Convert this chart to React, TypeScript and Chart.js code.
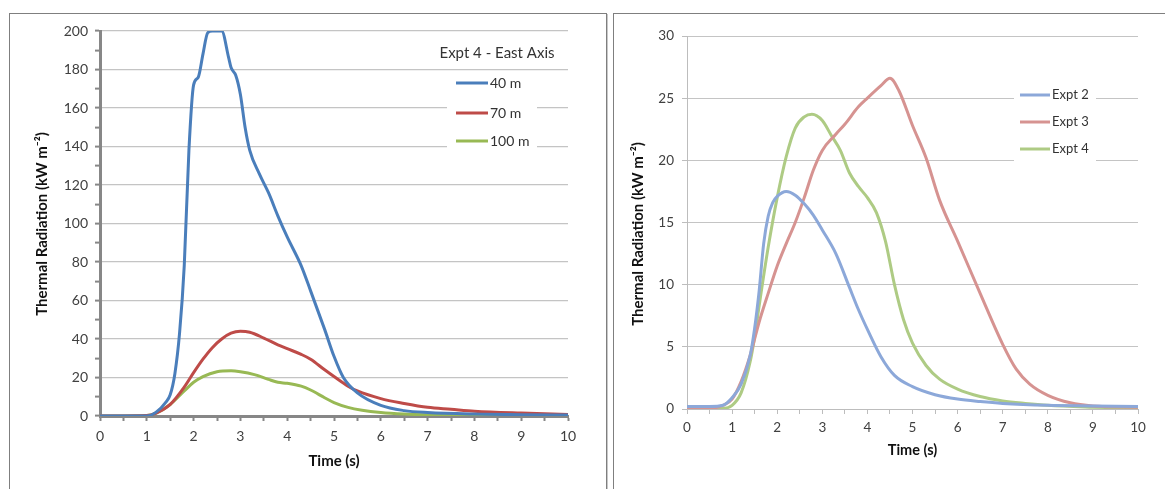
import React, { useEffect, useRef } from "react";
import { Chart, registerables } from "chart.js";

Chart.register(...registerables);

const FONT = "Lato, 'Liberation Sans', 'DejaVu Sans', sans-serif";

// ---------- Left chart: Expt 4 - East Axis ----------
const leftLegendTitle = "Expt 4 - East Axis";
const leftLabels = ["40 m", "70 m", "100 m"];

const time40 = [0, 0.5, 1, 1.2, 1.4, 1.5, 1.6, 1.7, 1.8, 1.9, 2.0, 2.1, 2.2, 2.3, 2.4, 2.5, 2.6, 2.75, 2.8, 2.9, 3.0, 3.1, 3.2, 3.4, 3.6, 3.8, 4.0, 4.3, 4.5, 4.8, 5.0, 5.2, 5.5, 6.0, 6.5, 7, 8, 9, 10];
const rad40 = [0, 0, 0, 2, 7, 11, 22, 43, 78, 138, 172, 176, 188, 199, 200, 200, 200, 186, 181, 177, 167, 150, 138, 126, 116, 104, 93, 78, 65, 45, 31, 20, 12, 5.5, 2.8, 1.8, 1.0, 0.7, 0.5];

const time70 = [0, 0.5, 1, 1.2, 1.5, 1.8, 2.0, 2.2, 2.4, 2.6, 2.8, 3.0, 3.2, 3.5, 3.8, 4.0, 4.3, 4.5, 4.8, 5.0, 5.3, 5.5, 6.0, 6.5, 7.0, 7.5, 8.0, 9.0, 10];
const rad70 = [0, 0, 0.2, 1.5, 6, 15, 22.5, 29.5, 35.5, 40, 43, 44, 43.5, 40.5, 37, 35, 32, 29.5, 24, 20.5, 15.5, 13, 9, 6.5, 4.5, 3.5, 2.5, 1.5, 0.8];

const time100 = [0, 0.5, 1, 1.2, 1.5, 1.8, 2.0, 2.2, 2.5, 2.8, 3.0, 3.3, 3.6, 3.8, 4.0, 4.3, 4.5, 4.8, 5.0, 5.3, 5.6, 6.0, 6.5, 7, 8, 9, 10];
const rad100 = [0, 0, 0.2, 1.5, 6, 13, 17.5, 20.5, 23, 23.5, 23, 21.5, 19, 17.5, 17, 15.5, 13.5, 9.5, 7, 4.5, 3, 1.8, 1.0, 0.6, 0.3, 0.2, 0.2];

// ---------- Right chart: Expt 2 / 3 / 4 ----------
const rightLabels = ["Expt 2", "Expt 3", "Expt 4"];

const timeE2 = [0, 0.5, 0.8, 1.0, 1.2, 1.4, 1.5, 1.6, 1.7, 1.8, 1.9, 2.0, 2.2, 2.4, 2.6, 2.8, 3.0, 3.3, 3.6, 3.8, 4.0, 4.3, 4.6, 5.0, 5.5, 6.0, 6.5, 7.0, 8.0, 9.0, 10];
const radE2 = [0.2, 0.2, 0.3, 0.9, 2.0, 4.3, 6.5, 9.5, 13.3, 15.5, 16.6, 17.1, 17.5, 17.2, 16.5, 15.6, 14.4, 12.5, 9.8, 8, 6.4, 4.2, 2.7, 1.8, 1.15, 0.8, 0.6, 0.45, 0.3, 0.25, 0.2];

const timeE3 = [0, 0.6, 0.8, 1.0, 1.2, 1.4, 1.6, 1.8, 2.0, 2.2, 2.4, 2.6, 2.8, 3.0, 3.3, 3.5, 3.8, 4.0, 4.3, 4.5, 4.7, 5.0, 5.3, 5.6, 6.0, 6.5, 7.0, 7.3, 7.6, 8.0, 8.5, 9.0, 10];
const radE3 = [0.05, 0.1, 0.3, 0.8, 2.2, 4.3, 7, 9.3, 11.5, 13.3, 15, 17, 19.2, 20.8, 22.1, 22.9, 24.3, 25, 26, 26.6, 25.6, 22.8, 20.2, 16.8, 13.5, 9.3, 5.2, 3.2, 2.0, 1.1, 0.5, 0.25, 0.15];

const timeE4 = [0, 0.8, 1.0, 1.2, 1.4, 1.5, 1.6, 1.8, 2.0, 2.2, 2.4, 2.6, 2.77, 3.0, 3.2, 3.4, 3.6, 3.8, 4.0, 4.2, 4.4, 4.6, 4.8, 5.0, 5.3, 5.6, 6.0, 6.5, 7.0, 7.5, 8.0, 9.0, 10];
const radE4 = [0, 0.05, 0.3, 1.3, 3.8, 5.8, 8.3, 13.0, 17, 20.3, 22.6, 23.5, 23.7, 23.2, 22, 20.8, 19, 17.9, 17, 15.8, 13.5, 10, 7.2, 5.3, 3.5, 2.4, 1.6, 1.0, 0.65, 0.45, 0.3, 0.15, 0.05];

const leftColors = ["#4A7EBB", "#BE4B48", "#98B954"];
const rightColors = ["#8CA8D9", "#D69391", "#AECB84"];

const yTitle = "Thermal Radiation (kW m\u207B\u00B2)";
const xTitle = "Time (s)";

const pts = (xs: number[], ys: number[]) => xs.map((x, i) => ({ x, y: ys[i] }));

type LegendCfg = {
  title?: string;
  titleX?: number;
  titleY?: number;
  titleSize?: number;
  box: { x: number; y: number; w: number; h: number };
  lineX0: number;
  lineX1: number;
  textX: number;
  rows: number[];
  labels: string[];
  colors: string[];
  fontSize: number;
  yTitleX: number;
  yTitleY: number;
  yTitleSize: number;
};

function legendPlugin(cfg: LegendCfg) {
  return {
    id: "boxLegend",
    afterDraw(chart: any) {
      const ctx = chart.ctx as CanvasRenderingContext2D;
      ctx.save();
      // y-axis title
      ctx.save();
      ctx.translate(cfg.yTitleX, cfg.yTitleY);
      ctx.rotate(-Math.PI / 2);
      ctx.fillStyle = "#111111";
      ctx.font = `bold ${cfg.yTitleSize}px ${FONT}`;
      ctx.textAlign = "center";
      ctx.textBaseline = "middle";
      ctx.fillText(yTitle, 0, 0);
      ctx.restore();
      // legend
      ctx.fillStyle = "#ffffff";
      ctx.fillRect(cfg.box.x, cfg.box.y, cfg.box.w, cfg.box.h);
      if (cfg.title) {
        ctx.fillStyle = "#333333";
        ctx.font = `${cfg.titleSize}px ${FONT}`;
        ctx.textAlign = "center";
        ctx.textBaseline = "middle";
        ctx.fillText(cfg.title, cfg.titleX!, cfg.titleY!);
      }
      cfg.labels.forEach((lab, i) => {
        const y = cfg.rows[i];
        ctx.strokeStyle = cfg.colors[i];
        ctx.lineWidth = 3;
        ctx.lineCap = "butt";
        ctx.beginPath();
        ctx.moveTo(cfg.lineX0, y);
        ctx.lineTo(cfg.lineX1, y);
        ctx.stroke();
        ctx.fillStyle = "#333333";
        ctx.font = `${cfg.fontSize}px ${FONT}`;
        ctx.textAlign = "left";
        ctx.textBaseline = "middle";
        ctx.fillText(lab, cfg.textX, y);
      });
      ctx.restore();
    },
  };
}

function ds(label: string, data: any[], color: string) {
  return {
    label,
    data,
    borderColor: color,
    backgroundColor: color,
    borderWidth: 3,
    pointRadius: 0,
    cubicInterpolationMode: "monotone" as const,
    fill: false,
  };
}

function LeftChart() {
  const ref = useRef<HTMLCanvasElement>(null);
  useEffect(() => {
    const axisGrey = "#878787";
    const chart = new Chart(ref.current!, {
      type: "line",
      data: {
        datasets: [
          ds(leftLabels[0], pts(time40, rad40), leftColors[0]),
          ds(leftLabels[1], pts(time70, rad70), leftColors[1]),
          ds(leftLabels[2], pts(time100, rad100), leftColors[2]),
        ],
      },
      options: {
        responsive: false,
        animation: false,
        events: [],
        layout: { padding: { top: 17, right: 38, left: 0, bottom: 0 } },
        plugins: { legend: { display: false }, tooltip: { enabled: false } },
        scales: {
          x: {
            type: "linear",
            min: 0,
            max: 10,
            afterFit: (s: any) => { s.height = 73; },
            border: { display: true, color: axisGrey, width: 3 },
            grid: { drawOnChartArea: false, drawTicks: true, tickLength: 5, tickColor: axisGrey, tickWidth: 2 },
            ticks: {
              stepSize: 0.5,
              autoSkip: false,
              maxRotation: 0,
              padding: 7,
              color: "#404040",
              font: { family: FONT, size: 14 },
              callback: (v: any) => (Number.isInteger(v) ? String(v) : ""),
            },
            title: { display: true, text: xTitle, color: "#111", font: { family: FONT, size: 15, weight: "bold" }, padding: { top: 0, bottom: 19 } },
          },
          y: {
            type: "linear",
            min: 0,
            max: 200,
            afterFit: (s: any) => { s.width = 90; },
            border: { display: true, color: axisGrey, width: 3 },
            grid: {
              color: (c: any) => (c.tick && c.tick.value % 20 === 0 ? "#C4C4C4" : "rgba(0,0,0,0)"),
              lineWidth: 1.2,
              tickLength: 5,
              tickColor: axisGrey,
              tickWidth: 2,
            },
            ticks: {
              stepSize: 10,
              autoSkip: false,
              padding: 7,
              color: "#404040",
              font: { family: FONT, size: 14 },
              callback: (v: any) => (v % 20 === 0 ? String(v) : ""),
            },
            title: { display: false },
          },
        },
      },
      plugins: [
        legendPlugin({
          title: leftLegendTitle,
          titleX: 487,
          titleY: 39,
          titleSize: 15,
          box: { x: 437, y: 58, w: 90, h: 80 },
          lineX0: 446,
          lineX1: 478,
          textX: 480,
          rows: [69, 99, 127],
          labels: leftLabels,
          colors: leftColors,
          fontSize: 14,
          yTitleX: 32,
          yTitleY: 210,
          yTitleSize: 15,
        }),
      ],
    } as any);
    return () => chart.destroy();
  }, []);
  return <canvas ref={ref} width={596} height={475} style={{ position: "absolute", left: 10, top: 14, width: 596, height: 475 }} />;
}

function RightChart() {
  const ref = useRef<HTMLCanvasElement>(null);
  useEffect(() => {
    const axisGrey = "#BDBDBD";
    const chart = new Chart(ref.current!, {
      type: "line",
      data: {
        datasets: [
          ds(rightLabels[0], pts(timeE2, radE2), rightColors[0]),
          ds(rightLabels[1], pts(timeE3, radE3), rightColors[1]),
          ds(rightLabels[2], pts(timeE4, radE4), rightColors[2]),
        ],
      },
      options: {
        responsive: false,
        animation: false,
        events: [],
        layout: { padding: { top: 22, right: 27, left: 0, bottom: 0 } },
        plugins: { legend: { display: false }, tooltip: { enabled: false } },
        scales: {
          x: {
            type: "linear",
            min: 0,
            max: 10,
            afterFit: (s: any) => { s.height = 80; },
            border: { display: true, color: axisGrey, width: 1 },
            grid: { drawOnChartArea: false, drawTicks: true, tickLength: 5, tickColor: axisGrey, tickWidth: 1 },
            ticks: {
              stepSize: 0.5,
              autoSkip: false,
              maxRotation: 0,
              padding: 6,
              color: "#404040",
              font: { family: FONT, size: 13.5 },
              callback: (v: any) => (Number.isInteger(v) ? String(v) : ""),
            },
            title: { display: true, text: xTitle, color: "#111", font: { family: FONT, size: 14.5, weight: "bold" }, padding: { top: 0, bottom: 30 } },
          },
          y: {
            type: "linear",
            min: 0,
            max: 30,
            afterFit: (s: any) => { s.width = 72; },
            border: { display: true, color: axisGrey, width: 1 },
            grid: { color: "#C4C4C4", lineWidth: 1, tickLength: 5, tickColor: axisGrey, tickWidth: 1 },
            ticks: {
              stepSize: 5,
              autoSkip: false,
              padding: 8,
              color: "#404040",
              font: { family: FONT, size: 13.5 },
            },
            title: { display: false },
          },
        },
      },
      plugins: [
        legendPlugin({
          box: { x: 399, y: 70, w: 82, h: 78 },
          lineX0: 405,
          lineX1: 435,
          textX: 437,
          rows: [81, 108, 135],
          labels: rightLabels,
          colors: rightColors,
          fontSize: 13,
          yTitleX: 23,
          yTitleY: 220,
          yTitleSize: 15,
        }),
      ],
    } as any);
    return () => chart.destroy();
  }, []);
  return <canvas ref={ref} width={550} height={475} style={{ position: "absolute", left: 615, top: 14, width: 550, height: 475 }} />;
}

export default function App() {
  return (
    <div style={{ position: "fixed", left: 0, top: 0, width: 1165, height: 489, background: "#ffffff", overflow: "hidden" }}>
      <div style={{ position: "absolute", left: 9, top: 13, width: 596, height: 520, border: "1px solid #7f7f7f", boxShadow: "1px 1px 0 #c8c8c8" }} />
      <div style={{ position: "absolute", left: 613, top: 13, width: 600, height: 520, border: "1px solid #7f7f7f", boxShadow: "1px 1px 0 #c8c8c8" }} />
      <LeftChart />
      <RightChart />
    </div>
  );
}
